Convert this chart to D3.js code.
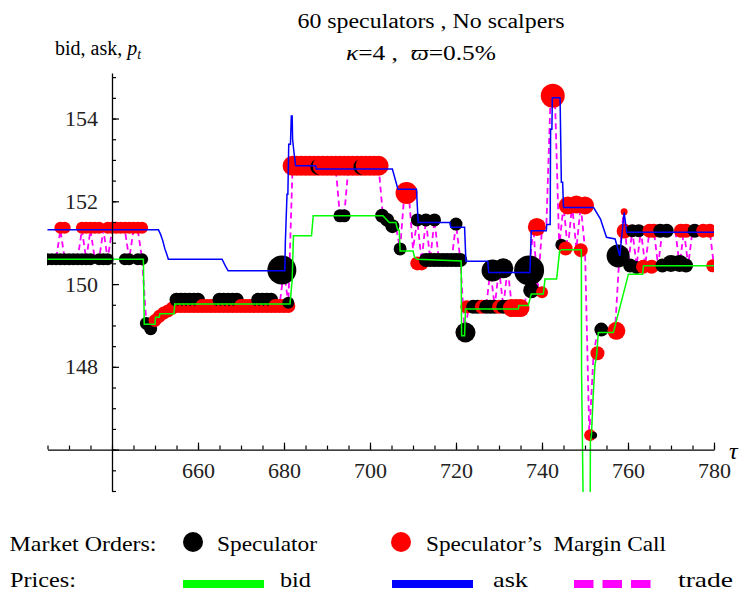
<!DOCTYPE html>
<html><head><meta charset="utf-8">
<script src="https://cdn.jsdelivr.net/npm/d3@7"></script>
<style>
body{margin:0;background:#fff}
svg{display:block}
svg text{font-family:"Liberation Serif","Times New Roman",serif !important;fill:#000}
</style>
</head><body><svg id="c" width="744" height="593"></svg>
<script>
// ---------- DATA ----------
const tau = d3.range(625, 781);
const tradePrices = [
 150.6,150.6,150.6,151.31,150.6,150.6,150.6,150.6,151.31,150.6,
 151.31,150.6,150.6,151.31,150.6,151.31,151.31,151.31,151.31,150.6,
 151.31,151.31,150.6,149.03,149.03,149.15,149.28,149.28,149.35,149.45,
 149.52,149.52,149.52,149.52,149.52,149.52,149.52,149.52,149.52,149.52,
 149.52,149.52,149.52,149.52,149.52,149.52,149.52,149.52,149.52,149.52,
 149.52,149.52,149.52,149.52,149.52,150.34,149.52,152.85,152.85,152.85,
 152.85,152.85,152.85,152.85,152.85,152.85,152.85,152.85,151.65,151.65,
 152.85,152.85,152.85,152.85,152.85,152.85,152.85,152.85,151.65,151.55,
 151.4,151.4,150.85,152.2,152.2,150.85,151.55,150.55,151.55,150.6,
 151.55,150.6,150.6,150.6,150.6,151.45,150.6,148.83,149.45,149.45,
 149.45,149.45,149.45,150.33,149.45,150.38,149.45,150.38,149.45,149.45,
 149.45,149.5,150.33,151.35,149.85,151.35,151.35,154.55,154.55,150.9,
 151.9,150.85,151.9,150.85,151.9,150.85,146.35,148.33,148.9,148.9,
 148.9,148.9,148.9,150.68,151.77,150.45,151.29,150.45,151.29,150.45,
 151.29,151.29,150.45,151.29,151.29,151.29,151.29,150.45,151.29,150.45,
 151.29,151.29,151.29,151.29,151.29,150.44
];
const bidPrices = [
 [625,150.6],[647.3,150.6],[647.5,149.03],[650,149.03],[650.1,149.2],[651,149.2],[651.1,149.28],
 [654.4,149.28],[654.6,149.52],[681.4,149.52],[681.9,150.1],[682.2,151.17],[686.4,151.17],
 [686.8,151.65],[703,151.65],[704.5,151.49],[706,151.49],[706.4,151.33],[706.8,151.3],[707,150.8],
 [710,150.8],[710.4,150.64],[711,150.6],[721.2,150.56],[721.3,148.75],[722,148.75],[722.2,149.4],
 [734.5,149.4],[734.6,149.48],[736.8,149.48],[737.5,149.76],[740.3,149.76],[740.7,150.12],
 [743.4,150.12],[744.1,150.8],[744.6,150.83],[749.15,150.83],[749.2,147.9],[749.6,144.5],
 [751.2,144.5],[751.25,146.18],[751.5,146.34],[751.9,147.3],[752.3,148.03],[752.7,148.27],
 [753.1,148.83],[756.6,148.83],[757,148.99],[760.1,150.24],[763.4,150.24],[763.6,150.44],[780,150.44]
];
const askPrices = [
 [625,151.31],[650.8,151.31],[651.3,151.2],[651.8,151.05],[652.3,150.85],[652.8,150.7],[653.1,150.6],
 [665.6,150.6],[666.3,150.45],[667,150.32],[680.2,150.32],[680.3,150.97],[680.7,152.17],[680.9,152.17],
 [681.1,153.38],[681.5,153.38],[681.7,154.06],[681.9,154.06],[682.0,153.5],[682.3,153.2],[682.7,152.86],
 [687.4,152.86],[687.5,152.78],[705.2,152.78],[706.5,152.29],[710.8,152.29],[711.2,151.49],
 [718.6,151.49],[718.8,151.37],[722,151.37],[722.3,150.55],[727.4,150.55],[727.6,150.28],
 [737.2,150.28],[737.5,151.29],[741,151.29],[741.1,151.44],[741.9,151.44],[742,153.74],
 [742.3,153.74],[742.4,154.5],[744.2,154.5],[744.5,152.46],[744.8,152.46],[745,151.85],
 [752,151.85],[753.6,151.57],[755,151.13],[757,151.09],[758.1,150.68],[759.1,151.73],
 [759.7,151.25],[780,151.25]
];
// [tau, price, marker radius]
const speculatorOrders = [
 [625,150.6,6],[626,150.6,6],[627,150.6,6],[628,150.6,6],[629,150.6,6],[630,150.6,6],
 [631,150.6,6],[632,150.6,6],[633,150.6,6],[634,150.6,6],[635,150.6,6],[637,150.6,6],
 [638,150.6,6],[639,150.6,6],[643,150.6,6],[644,150.6,6],[646,150.6,6],[647,150.6,6],
 [648,149.05,6.5],[649,148.92,6.5],
 [655,149.62,7],[656,149.62,7],[657,149.62,7],[658,149.62,7],[659,149.62,7],[660,149.62,7],
 [665,149.62,7],[666,149.62,7],[667,149.62,7],[668,149.62,7],[669,149.62,7],
 [674,149.62,7],[675,149.62,7],[676,149.62,7],[677,149.62,7],
 [679.5,150.34,14.5],[681,149.55,6],
 [688,152.83,8],[693,151.65,6.5],[694,151.65,6.5],[698,152.83,8],
 [702.8,151.65,7],[704,151.55,7],[705.2,151.4,7],[707,150.85,6.5],
 [711,151.55,6.5],[713,151.55,6.5],[715,151.55,6.5],[720,151.45,6.5],
 [713,150.58,7],[714,150.58,7],[715,150.58,7],[716,150.58,7],[717,150.58,7],[718,150.58,7],
 [719,150.58,7],[720,150.58,7],[721,150.58,7],
 [722.2,148.83,10],
 [724,149.45,7],[725,149.45,7],[727,149.45,7],[728,149.45,7],[729,149.45,7],
 [731,149.45,7],[732,149.45,7],
 [728.5,150.33,11],[731,150.38,10],[737,150.33,15],[737.5,149.85,8],
 [744.5,150.95,6],[752,146.35,3.5],[753.8,148.9,7],[757.7,150.68,11.5],
 [760.5,150.45,7],[762,150.4,6.5],[761,151.29,6.5],[762.5,151.29,6.5],
 [767.5,151.29,7],[769,151.29,7],[775.5,151.29,7],
 [768,150.45,7],[770,150.5,8.5],[772,150.5,8.5],[773.5,150.45,7]
];
const marginCallOrders = [
 [628,151.36,6],[629,151.36,6],[633,151.36,6],[634,151.36,6],[635,151.36,6],[636,151.36,6],
 [637,151.36,6],[639,151.36,6],[640,151.36,6],[641,151.36,6],[642,151.36,6],[643,151.36,6],
 [644,151.36,6],[645,151.36,6],[646,151.36,6],[647,151.36,6],
 [650,149.12,6.5],[651,149.22,6.5],[652,149.3,6.5],[653,149.35,6.5],[654,149.42,6.5],
 [655,149.47,7],[656,149.47,7],[657,149.47,7],[658,149.47,7],[659,149.47,7],[660,149.47,7],
 [661,149.47,7],[662,149.47,7],[663,149.47,7],[664,149.47,7],[665,149.47,7],[666,149.47,7],
 [667,149.47,7],[668,149.47,7],[669,149.47,7],[670,149.47,7],[671,149.47,7],[672,149.47,7],
 [673,149.47,7],[674,149.47,7],[675,149.47,7],[676,149.47,7],[677,149.47,7],[678,149.47,7],
 [679,149.47,7],[680,149.47,7],[681,149.47,7],
 [682,152.86,10],[683,152.86,10],[684,152.86,10],[685,152.86,10],[686,152.86,10],[687,152.86,10],
 [688,152.86,10],[689,152.86,10],[690,152.86,10],[691,152.86,10],[692,152.86,10],[693,152.86,10],
 [694,152.86,10],[695,152.86,10],[696,152.86,10],[697,152.86,10],[698,152.86,10],[699,152.86,10],
 [700,152.86,10],[701,152.86,10],[702,152.86,10],
 [708.5,152.2,11],[711,150.5,7],[712,150.5,7],
 [722.5,149.45,6.5],[726,149.45,7],[730,149.45,7],[733,149.42,9],[734,149.42,9],[735,149.42,9],
 [738.8,151.38,9],[740,149.8,6],[742.5,154.55,12],
 [745.5,150.86,7],[749,150.82,7],[746,151.9,9],[748,151.92,9],[750,151.9,9],
 [751.2,146.35,6],[752.9,148.33,7],[757.3,148.87,9],
 [759.1,151.28,7.5],[759.1,151.75,3.5],
 [763.5,150.42,7],[765.5,150.42,7],
 [765,151.29,7],[766,151.29,7],[772.3,151.29,7],[773.5,151.29,7],[777.5,151.29,7],[779,151.29,7],
 [779.7,150.44,6.5]
];
const xMajorTicks = [660,680,700,720,740,760,780];
const xMinorTicks = d3.range(625, 781, 5);
const yMajorTicks = [146,148,150,152,154];
const yMinorTicks = d3.range(145, 155.01, 0.5);

// ---------- CHART ----------
const SERIF = '"Liberation Serif","Times New Roman",serif';
const svg = d3.select('#c');
svg.append('rect').attr('width',744).attr('height',593).attr('fill','#fff');
const x = d3.scaleLinear().domain([625,780]).range([47.5,714]);
const y = d3.scaleLinear().domain([145,155.1]).range([491,73]);

svg.append('defs').append('clipPath').attr('id','clip')
  .append('rect').attr('x',47).attr('y',60).attr('width',667).attr('height',432);

const plot = svg.append('g').attr('clip-path','url(#clip)');
const line = d3.line().x(d=>x(d[0])).y(d=>y(d[1]));

plot.append('path').datum(tau.map((t,i)=>[t,tradePrices[i]]))
  .attr('d',line).attr('fill','none').attr('stroke','#ff00ff')
  .attr('stroke-width',1.8).attr('stroke-dasharray','6,4');

const orders = speculatorOrders.map(d=>({t:d[0],p:d[1],r:d[2],c:'#000',k:1}))
  .concat(marginCallOrders.map(d=>({t:d[0],p:d[1],r:d[2],c:'#ff0000',k:0})))
  .sort((a,b)=> a.t-b.t || a.k-b.k);
plot.selectAll('circle.o').data(orders).join('circle').attr('class','o')
  .attr('cx',d=>x(d.t)).attr('cy',d=>y(d.p)).attr('r',d=>d.r).attr('fill',d=>d.c);

plot.append('path').datum(bidPrices).attr('d',line).attr('fill','none')
  .attr('stroke','#00ff00').attr('stroke-width',1.5);
plot.append('path').datum(askPrices).attr('d',line).attr('fill','none')
  .attr('stroke','#0000ff').attr('stroke-width',1.5);

// axes
const x0 = x(640), y0 = y(146);
svg.append('g').attr('transform',`translate(${x0},0)`)
  .call(d3.axisLeft(y).tickValues(yMajorTicks).tickSize(-7).tickSizeOuter(0).tickPadding(14)
    .tickFormat(d=> d===146 ? '' : d3.format('d')(d)));
svg.append('g').attr('transform',`translate(${x0},0)`)
  .call(d3.axisLeft(y).tickValues(yMinorTicks).tickSize(-4).tickFormat(''))
  .call(g=>g.select('.domain').remove());
svg.append('g').attr('transform',`translate(0,${y0})`)
  .call(d3.axisBottom(x).tickValues(xMajorTicks).tickSize(-7).tickSizeOuter(0).tickPadding(13)
    .tickFormat(d3.format('d')));
svg.append('g').attr('transform',`translate(0,${y0})`)
  .call(d3.axisBottom(x).tickValues(xMinorTicks).tickSize(-4).tickFormat(''))
  .call(g=>g.select('.domain').remove());
svg.selectAll('.domain').attr('stroke','#000').attr('stroke-width',1.3);
svg.selectAll('.tick line').attr('stroke','#000').attr('stroke-width',1.2);
svg.selectAll('.tick text').style('font-family',SERIF).style('font-size','22px').style('fill','#222');

// labels
svg.append('text').attr('x',431).attr('y',28).attr('text-anchor','middle').style('font-size','20px')
  .attr('textLength',267).attr('lengthAdjust','spacingAndGlyphs')
  .text('60 speculators , No scalpers');
const t2 = svg.append('text').attr('x',346).attr('y',60).style('font-size','20px')
  .attr('textLength',150).attr('lengthAdjust','spacingAndGlyphs').style('white-space','pre');
t2.append('tspan').style('font-style','italic').text('κ');
t2.append('tspan').text('=4 ,  ');
t2.append('tspan').style('font-style','italic').text('ϖ');
t2.append('tspan').text('=0.5%');

const yl = svg.append('text').attr('x',55).attr('y',55).style('font-size','20px').style('white-space','pre');
yl.append('tspan').text('bid, ask, ');
yl.append('tspan').style('font-style','italic').text('p');
yl.append('tspan').style('font-style','italic').style('font-size','14px').attr('dy',4).text('t');

svg.append('text').attr('x',729).attr('y',459).style('font-size','24px').style('font-style','italic').text('τ');

// legend
const lg = svg.append('g');
const row1 = 551, row2 = 587, lineY = 584;
function ltext(xp, yp, w, s){
  return lg.append('text').attr('x',xp).attr('y',yp).style('font-size','22px').style('white-space','pre')
    .attr('textLength',w).attr('lengthAdjust','spacingAndGlyphs').text(s);
}
ltext(9.5,row1,147,'Market Orders:');
lg.append('circle').attr('cx',193).attr('cy',542).attr('r',10).attr('fill','#000');
ltext(217,row1,100,'Speculator');
lg.append('circle').attr('cx',401).attr('cy',542).attr('r',10).attr('fill','#ff0000');
ltext(426,row1,240,'Speculator’s  Margin Call');
ltext(10,row2,66,'Prices:');
lg.append('line').attr('x1',183).attr('x2',264).attr('y1',lineY).attr('y2',lineY)
  .attr('stroke','#00ff00').attr('stroke-width',8);
ltext(280,row2,31,'bid');
lg.append('line').attr('x1',392).attr('x2',473).attr('y1',lineY).attr('y2',lineY)
  .attr('stroke','#0000ff').attr('stroke-width',8);
ltext(493,row2,35,'ask');
lg.append('line').attr('x1',574).attr('x2',655).attr('y1',lineY).attr('y2',lineY)
  .attr('stroke','#ff00ff').attr('stroke-width',8).attr('stroke-dasharray','19.5,9');
ltext(678,row2,55,'trade');
</script>
</body></html>
